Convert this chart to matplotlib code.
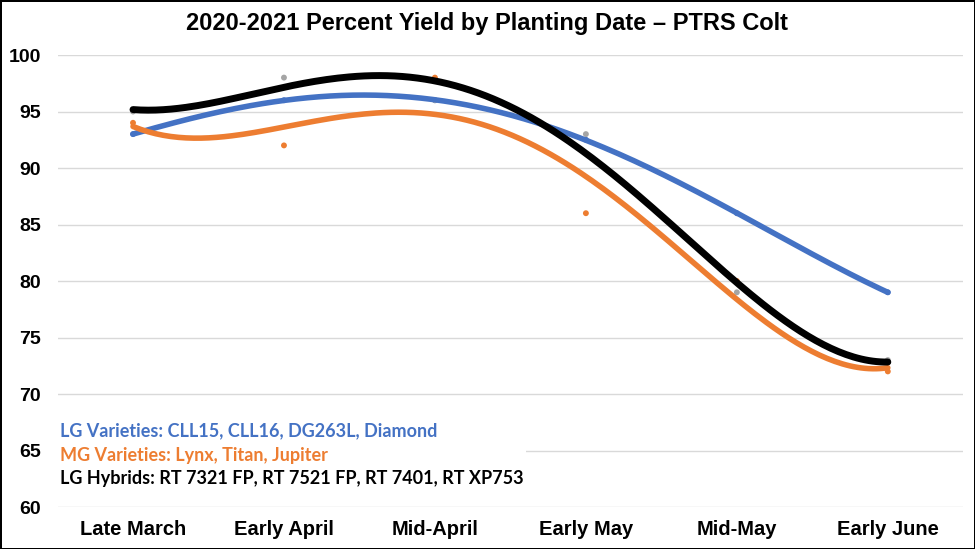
import numpy as np
import matplotlib.pyplot as plt

# planting dates and percent yield readings
dates = ['Late March', 'Early April', 'Mid-April', 'Early May', 'Mid-May', 'Early June']
lg_varieties = [93, 96, 96, 92.5, 86, 79]
mg_varieties = [94, 92, 98, 86, 80, 72]
lg_hybrids = [95, 98, 96, 93, 79, 73]

labels = ['LG Varieties: CLL15, CLL16, DG263L, Diamond',
          'MG Varieties: Lynx, Titan, Jupiter',
          'LG Hybrids: RT 7321 FP, RT 7521 FP, RT 7401, RT XP753']

blue = '#4472C4'
orange = '#ED7D31'

fig = plt.figure(figsize=(9.75, 5.49), dpi=100, edgecolor='black', linewidth=2)
ax = fig.add_axes([0.059, 0.0765, 0.929, 0.8233])

x = np.arange(len(dates))
xs = np.linspace(0, len(dates) - 1, 200)

series = [
    (lg_varieties, blue, blue, 4),
    (mg_varieties, orange, orange, 4),
    (lg_hybrids, '#A5A5A5', 'black', 5),
]
# polynomial trendlines (order 4), as in the original spreadsheet chart
for vals, pcol, lcol, lw in series:
    ax.scatter(x, vals, s=18, color=pcol, zorder=2, edgecolors='none')
for vals, pcol, lcol, lw in series:
    coef = np.polyfit(x, vals, 4)
    ax.plot(xs, np.polyval(coef, xs), color=lcol, lw=lw, solid_capstyle='round', zorder=3)

ax.set_xlim(-0.5, len(dates) - 0.5)
ax.set_ylim(60, 100)
ax.set_yticks(np.arange(60, 101, 5))
ax.set_xticks(x)
ax.set_xticklabels(dates, fontsize=14.5, fontweight='bold', family='Liberation Sans')
for t in ax.get_yticklabels():
    t.set_fontsize(14)
    t.set_fontweight('bold')
    t.set_family('Liberation Sans')
ax.tick_params(length=0)
ax.tick_params(axis='y', pad=12)
ax.tick_params(axis='x', pad=9)
ax.grid(axis='y', color='#D9D9D9', lw=1)
ax.set_axisbelow(True)
for s in ax.spines.values():
    s.set_visible(False)

# legend block with white background
ax.add_patch(plt.Rectangle((-0.52, 61.0), 3.12, 7.9, facecolor='white', edgecolor='none', zorder=1.5))
for i, (lab, col) in enumerate(zip(labels, [blue, orange, 'black'])):
    ax.text(0.003, 0.168 - i * 0.053, lab, transform=ax.transAxes, color=col,
            fontsize=13, fontweight='bold', family='Lato', va='center', zorder=4)

fig.text(0.5, 0.958, '2020-2021 Percent Yield by Planting Date \u2013 PTRS Colt',
         ha='center', va='center', fontsize=17, fontweight='bold', family='Liberation Sans')

fig.savefig('out.png', dpi=100, edgecolor=fig.get_edgecolor())
